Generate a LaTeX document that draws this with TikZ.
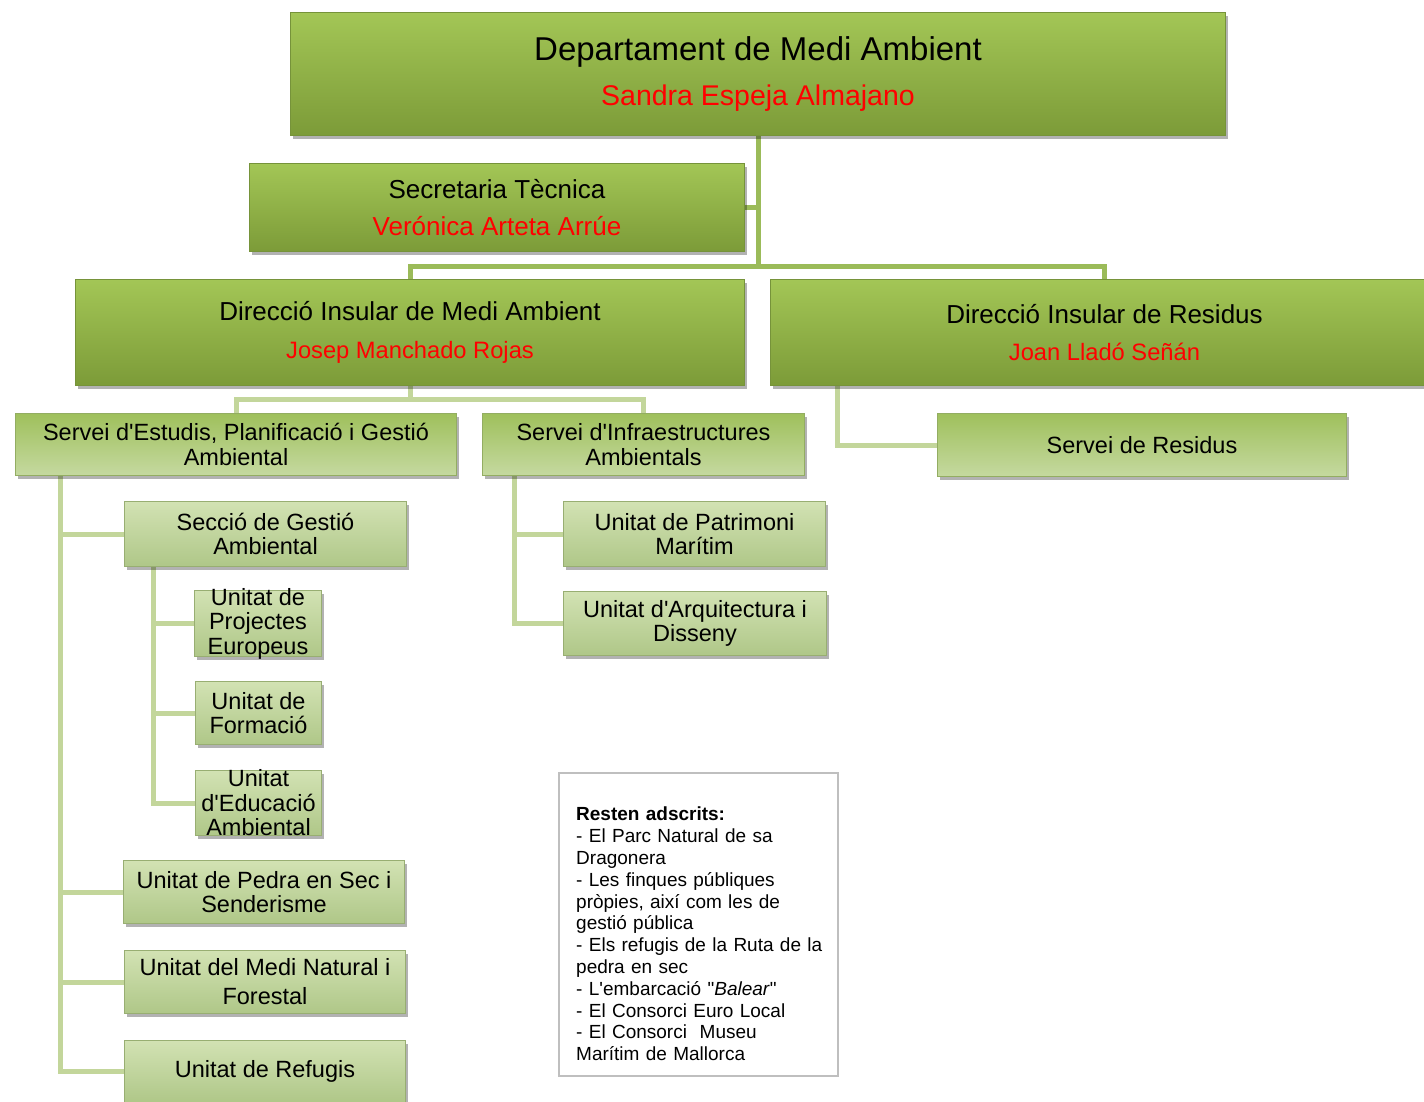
\documentclass[tikz,border=0pt]{standalone}
\usepackage{fontspec}
\setmainfont{Liberation Sans}[Ligatures=TeXOff]
\usetikzlibrary{shadows,calc}
\pgfdeclarelayer{bg}
\pgfsetlayers{bg,main}
\definecolor{gA}{HTML}{A3C656}
\definecolor{gB}{HTML}{7C9B38}
\definecolor{gEdge}{HTML}{76933A}
\definecolor{sA}{HTML}{9FC05C}
\definecolor{sB}{HTML}{C5D9A0}
\definecolor{sEdge}{HTML}{93AD62}
\definecolor{uA}{HTML}{D2E2B3}
\definecolor{uB}{HTML}{AFC788}
\definecolor{uEdge}{HTML}{98AE72}
\definecolor{lnA}{HTML}{9BBB59}
\definecolor{lnB}{HTML}{C3D69B}
\definecolor{noteEdge}{HTML}{BFBFBF}
\begin{document}
\begin{tikzpicture}[x=1pt,y=-1pt,
  box/.style={anchor=north west, inner sep=0pt, align=center, line width=1pt,
    drop shadow={shadow xshift=2pt, shadow yshift=-3pt, opacity=0.3, fill=black}},
  lvlA/.style={box, top color=gA, bottom color=gB, draw=gEdge},
  lvlB/.style={box, top color=sA, bottom color=sB, draw=sEdge},
  lvlC/.style={box, top color=uA, bottom color=uB, draw=uEdge},
  fbig/.style={font=\fontsize{26}{37.5}\selectfont},
  fmid/.style={font=\fontsize{23.5}{24.5}\selectfont},
  connA/.style={draw=lnA, line width=5pt},
  connB/.style={draw=lnB, line width=5pt},
  notebox/.style={anchor=north west, draw=noteEdge, line width=1.5pt, fill=white, inner sep=0pt},
  notetext/.style={anchor=north west, inner sep=0pt, align=left, text width=255pt,
    font=\fontsize{19}{21.8}\selectfont}
]
\useasboundingbox (0,0) rectangle (1424,1101);
\begin{pgfonlayer}{bg}
\fill[white] (0,0) rectangle (1424,1101);
\end{pgfonlayer}
\clip (0,0) rectangle (1424,1101);

% level 0/1
\node[lvlA, minimum width=935pt, minimum height=123pt,
  font=\fontsize{33}{45}\selectfont] (dept) at (290,12)
  {Departament de Medi Ambient\\\textcolor{red}{\fontsize{28.5}{30}\selectfont Sandra Espeja Almajano}};
\node[lvlA, fbig, minimum width=495pt, minimum height=88pt] (sec) at (249,163)
  {Secretaria Tècnica\\\textcolor{red}{Verónica Arteta Arrúe}};
\node[lvlA, fbig, minimum width=669pt, minimum height=106pt] (dma) at (75,279)
  {Direcció Insular de Medi Ambient\\\textcolor{red}{\fontsize{23.7}{26}\selectfont Josep Manchado Rojas}};
\node[lvlA, fbig, minimum width=668pt, minimum height=106pt] (dres) at (770,279)
  {Direcció Insular de Residus\\\textcolor{red}{\fontsize{23.7}{26}\selectfont Joan Lladó Señán}};

% services
\node[lvlB, fmid, minimum width=441pt, minimum height=62pt] (sest) at (15,413)
  {Servei d'Estudis, Planificació i Gestió\\Ambiental};
\node[lvlB, fmid, minimum width=322pt, minimum height=62pt] (sinf) at (482,413)
  {Servei d'Infraestructures\\Ambientals};
\node[lvlB, fmid, minimum width=409pt, minimum height=63pt] (sres) at (937,413)
  {Servei de Residus};

% units
\node[lvlC, fmid, minimum width=282pt, minimum height=65pt] (secc) at (124,501)
  {Secció de Gestió\\Ambiental};
\node[lvlC, fmid, minimum width=127pt, minimum height=66pt] (upe) at (194,590)
  {\parbox[c][40pt][c]{127pt}{\centering Unitat de\\Projectes\\Europeus}};
\node[lvlC, fmid, minimum width=126pt, minimum height=63pt] (ufo) at (195,681)
  {Unitat de\\Formació};
\node[lvlC, fmid, minimum width=126pt, minimum height=65pt] (ued) at (195,770)
  {\parbox[c][40pt][c]{126pt}{\centering Unitat\\d'Educació\\Ambiental}};
\node[lvlC, fmid, minimum width=281pt, minimum height=63pt] (ups) at (123,860)
  {Unitat de Pedra en Sec i\\Senderisme};
\node[lvlC, font=\fontsize{23.5}{29}\selectfont, minimum width=281pt, minimum height=63pt] (umn) at (124,950)
  {Unitat del Medi Natural i\\Forestal};
\node[lvlC, fmid, minimum width=281pt, minimum height=62pt] (uref) at (124,1040)
  {Unitat de Refugis};
\node[lvlC, fmid, minimum width=262pt, minimum height=65pt] (upm) at (563,501)
  {Unitat de Patrimoni\\Marítim};
\node[lvlC, fmid, minimum width=263pt, minimum height=64pt] (uar) at (563,591)
  {Unitat d'Arquitectura i\\Disseny};

% note
\node[notebox, minimum width=279pt, minimum height=303pt] (note) at (558,772) {};
\node[notetext] (notetxt) at (576,807)
  {\textbf{Resten adscrits:}\\
   - El Parc Natural de sa\\
   Dragonera\\
   - Les finques públiques\\
   pròpies, així com les de\\
   gestió pública\\
   - Els refugis de la Ruta de la\\
   pedra en sec\\
   - L'embarcació "\textit{Balear}"\\
   - El Consorci Euro Local\\
   - El Consorci~ Museu\\
   Marítim de Mallorca};

% connectors
\begin{pgfonlayer}{bg}
\coordinate (hub) at ($(dept.south)+(0,130)$);
\draw[connA] (dept.south) -- (hub);
\draw[connA] (sec.east) -- (sec.east -| hub);
\draw[connA] (dma.north) |- (hub) -| (dres.north);
\draw[connB] (dma.south) -- ++(0,13) coordinate (hubB);
\draw[connB] (sest.north) |- (hubB) -| (sinf.north);
\draw[connB] ($(dres.south west)+(67,0)$) |- (sres.west);
\draw[connB] ($(sest.south west)+(45,0)$) coordinate (vA) |- (uref.west);
\foreach \n in {secc,ups,umn} \draw[connB] (vA |- \n.west) -- (\n.west);
\draw[connB] ($(secc.south west)+(29,0)$) coordinate (vB) |- (ued.west);
\foreach \n in {upe,ufo} \draw[connB] (vB |- \n.west) -- (\n.west);
\draw[connB] ($(sinf.south west)+(32,0)$) coordinate (vC) |- (uar.west);
\draw[connB] (vC |- upm.west) -- (upm.west);
\end{pgfonlayer}
\end{tikzpicture}
\end{document}
